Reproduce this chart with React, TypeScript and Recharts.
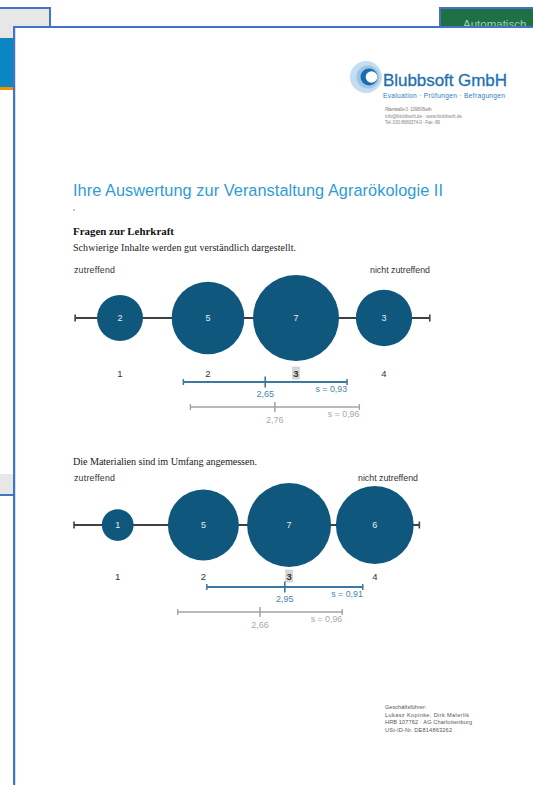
import React from 'react';
import { ScatterChart, Scatter, XAxis, YAxis, ZAxis, LabelList } from 'recharts';

// ---------- data ----------
const categories = [1, 2, 3, 4];
const tickLabels = ['1', '2', '3', '4'];
const q1Counts = [2, 5, 7, 3];
const q2Counts = [1, 5, 7, 6];
const ownMeans = [2.65, 2.95];
const ownSds = [0.93, 0.91];
const cmpMeans = [2.76, 2.66];
const cmpSds = [0.96, 0.96];
const questions = [
  'Schwierige Inhalte werden gut verständlich dargestellt.',
  'Die Materialien sind im Umfang angemessen.',
];
const scaleLabels = ['zutreffend', 'nicht zutreffend'];
const axisRange = [0.49, 4.52];

// ---------- style ----------
const SANS = '"Liberation Sans", Arial, sans-serif';
const SERIF = '"Liberation Serif", "Times New Roman", serif';
const BUBBLE = '#0f577c';
const OWN = '#3d78a0';
const CMP = '#a3a3a3';
const AXIS = '#404040';
const FRAME = '#4472c4';

const fmt = (v: number) => v.toFixed(2).replace('.', ',');

const medianCategory = (counts: number[]) => {
  const total = counts.reduce((a, b) => a + b, 0);
  let cum = 0;
  for (let i = 0; i < counts.length; i++) {
    cum += counts[i];
    if (cum >= total / 2) return categories[i];
  }
  return categories[categories.length - 1];
};

const capShape = (color: string, half: number, sw: number) => (p: any) => (
  <line x1={p.cx} x2={p.cx} y1={p.cy - half} y2={p.cy + half} stroke={color} strokeWidth={sw} />
);

const textShape = (color: string, dy: number, anchor: string, size: number) => (p: any) => (
  <text
    x={p.cx}
    y={p.cy + dy}
    textAnchor={anchor}
    dominantBaseline="central"
    fill={color}
    fontSize={size}
    fontFamily={SANS}
  >
    {p.payload.label}
  </text>
);

const tickShape = (p: any) => (
  <g>
    {p.payload.hl && <rect x={p.cx - 4} y={p.cy - 6.5} width={8} height={13} fill="#d6d6d6" />}
    <text
      x={p.cx}
      y={p.cy}
      textAnchor="middle"
      dominantBaseline="central"
      fill="#333"
      fontSize={9.5}
      fontFamily={SANS}
      fontWeight={p.payload.hl ? 'bold' : 'normal'}
    >
      {p.payload.label}
    </text>
  </g>
);

type Rows = { bubble: number; tick: number; own: number; cmp: number };

function RatingChart(props: {
  counts: number[];
  mean: number;
  sd: number;
  cmpMean: number;
  cmpSd: number;
  left: number;
  top: number;
  width: number;
  maxR: number;
  rows: Rows;
}) {
  const { counts, mean, sd, cmpMean, cmpSd, left, top, width, maxR, rows } = props;
  const H = 200;
  const median = medianCategory(counts);
  const bubbles = categories.map((c, i) => ({ x: c, y: rows.bubble, n: counts[i] }));
  const axisEnds = axisRange.map((x) => ({ x, y: rows.bubble }));
  const ticks = categories.map((c, i) => ({ x: c, y: rows.tick, label: tickLabels[i], hl: c === median }));
  const ownEnds = [{ x: mean - sd, y: rows.own }, { x: mean + sd, y: rows.own }];
  const cmpEnds = [{ x: cmpMean - cmpSd, y: rows.cmp }, { x: cmpMean + cmpSd, y: rows.cmp }];
  const ownMean = [{ x: mean, y: rows.own, label: fmt(mean) }];
  const cmpMeanPt = [{ x: cmpMean, y: rows.cmp, label: fmt(cmpMean) }];
  const ownSdLbl = [{ x: mean + sd, y: rows.own, label: 's = ' + fmt(sd) }];
  const cmpSdLbl = [{ x: cmpMean + cmpSd, y: rows.cmp, label: 's = ' + fmt(cmpSd) }];
  const zMax = 8;
  const areaMax = Math.PI * maxR * maxR * (zMax / 7);

  return (
    <div style={{ position: 'absolute', left, top }}>
      <ScatterChart width={width} height={H} margin={{ top: 0, right: 0, bottom: 0, left: 0 }}>
        <XAxis type="number" dataKey="x" domain={[0, 5]} allowDataOverflow hide />
        <YAxis type="number" dataKey="y" domain={[0, H]} allowDataOverflow reversed hide />
        <ZAxis type="number" dataKey="n" domain={[0, zMax]} range={[0, areaMax]} />
        <Scatter
          data={axisEnds}
          line={{ stroke: AXIS, strokeWidth: 2 }}
          shape={capShape(AXIS, 3.5, 1.6)}
          isAnimationActive={false}
        />
        <Scatter data={bubbles} fill={BUBBLE} isAnimationActive={false}>
          <LabelList dataKey="n" position="center" fill="#e6edf1" fontSize={9} fontFamily={SANS} />
        </Scatter>
        <Scatter data={ticks} shape={tickShape} isAnimationActive={false} />
        <Scatter
          data={ownEnds}
          line={{ stroke: OWN, strokeWidth: 1.8 }}
          shape={capShape(OWN, 3, 1.5)}
          isAnimationActive={false}
        />
        <Scatter data={ownMean} shape={capShape(OWN, 5.5, 1.6)} isAnimationActive={false} />
        <Scatter data={ownMean} shape={textShape('#4a84ab', 12, 'middle', 9)} isAnimationActive={false} />
        <Scatter data={ownSdLbl} shape={textShape('#4a84ab', 7, 'end', 8.8)} isAnimationActive={false} />
        <Scatter
          data={cmpEnds}
          line={{ stroke: CMP, strokeWidth: 1.6 }}
          shape={capShape(CMP, 3, 1.4)}
          isAnimationActive={false}
        />
        <Scatter data={cmpMeanPt} shape={capShape(CMP, 5, 1.5)} isAnimationActive={false} />
        <Scatter data={cmpMeanPt} shape={textShape('#a8a8a8', 13, 'middle', 9)} isAnimationActive={false} />
        <Scatter data={cmpSdLbl} shape={textShape('#a8a8a8', 7, 'end', 8.8)} isAnimationActive={false} />
      </ScatterChart>
    </div>
  );
}

export default function App() {
  return (
    <div
      style={{
        position: 'absolute',
        left: 0,
        top: 0,
        width: 533,
        height: 785,
        overflow: 'hidden',
        background: '#ffffff',
      }}
    >
      {/* background application window pieces */}
      <div
        style={{
          position: 'absolute',
          left: 0,
          top: 7,
          width: 49,
          height: 31,
          background: '#e7e7e7',
          borderTop: `2px solid ${FRAME}`,
          borderRight: `2px solid ${FRAME}`,
        }}
      />
      <div style={{ position: 'absolute', left: 0, top: 38, width: 13, height: 49, background: '#0a86c2' }} />
      <div style={{ position: 'absolute', left: 0, top: 87, width: 13, height: 3, background: '#f39200' }} />
      <div
        style={{
          position: 'absolute',
          left: 0,
          top: 474,
          width: 13,
          height: 20,
          background: '#e7e7e7',
          borderBottom: `2px solid ${FRAME}`,
        }}
      />
      <div
        style={{
          position: 'absolute',
          left: 439,
          top: 7,
          width: 100,
          height: 26,
          background: '#1f7145',
          borderTop: `2px solid ${FRAME}`,
          borderLeft: `2px solid ${FRAME}`,
          overflow: 'hidden',
        }}
      >
        <div
          style={{
            position: 'absolute',
            left: 22,
            top: 10,
            fontFamily: SANS,
            fontSize: 11.5,
            lineHeight: 1,
            color: '#9fd0ae',
            whiteSpace: 'nowrap',
          }}
        >
          Automatisch
        </div>
      </div>

      {/* document page */}
      <div
        style={{
          position: 'absolute',
          left: 13,
          top: 26,
          width: 540,
          height: 780,
          background: '#ffffff',
          borderLeft: `2px solid ${FRAME}`,
          borderTop: `2px solid ${FRAME}`,
        }}
      >
        <div style={{ position: 'absolute', left: 0, top: 0, width: 1, height: 780, background: '#cfe0f3' }} />
      </div>

      {/* page text & logo */}
      <svg width={533} height={785} style={{ position: 'absolute', left: 0, top: 0 }}>
        {/* logo */}
        <circle cx={366} cy={77} r={16} fill="#c4ddf1" />
        <circle cx={368} cy={77} r={11.5} fill="#9cc6e7" />
        <circle cx={369} cy={77} r={8.5} fill="#1d6cab" />
        <circle cx={371.5} cy={77} r={5.8} fill="#ffffff" />
        <text x={383} y={86} fontFamily={SANS} fontSize={17} fill="#1f6fb0" stroke="#1f6fb0" strokeWidth={0.3} textLength={124}>
          Blubbsoft GmbH
        </text>
        <text x={383} y={98} fontFamily={SANS} fontSize={6.6} fill="#2b7bbd" textLength={122}>
          Evaluation · Prüfungen · Befragungen
        </text>
        <text x={385} y={111} fontFamily={SANS} fontSize={4.8} fill="#8a8a8a" textLength={47}>
          Ritterstraße 3 · 10969 Berlin
        </text>
        <text x={385} y={117.5} fontFamily={SANS} fontSize={4.8} fill="#8a8a8a" textLength={77}>
          info@blubbsoft.de · www.blubbsoft.de
        </text>
        <text x={385} y={124} fontFamily={SANS} fontSize={4.8} fill="#8a8a8a" textLength={55}>
          Tel. 030 8680374-0 · Fax -99
        </text>

        {/* headings */}
        <text x={73} y={196} fontFamily={SANS} fontSize={16.3} fill="#2f9bd6" textLength={370}>
          Ihre Auswertung zur Veranstaltung Agrarökologie II
        </text>
        <circle cx={74} cy={210} r={0.8} fill="#888" />
        <text x={73} y={234.5} fontFamily={SERIF} fontSize={10.9} fontWeight="bold" fill="#111" textLength={101}>
          Fragen zur Lehrkraft
        </text>
        <text x={73} y={250.5} fontFamily={SERIF} fontSize={10} fill="#222" textLength={223}>
          {questions[0]}
        </text>
        <text x={74} y={273} fontFamily={SANS} fontSize={8.8} fill="#333" textLength={41}>
          {scaleLabels[0]}
        </text>
        <text x={430} y={273} fontFamily={SANS} fontSize={8.8} fill="#333" textAnchor="end">
          {scaleLabels[1]}
        </text>

        <text x={73} y={464.5} fontFamily={SERIF} fontSize={10.2} fill="#222" textLength={184}>
          {questions[1]}
        </text>
        <text x={74} y={481} fontFamily={SANS} fontSize={8.8} fill="#333" textLength={41}>
          {scaleLabels[0]}
        </text>
        <text x={418} y={481} fontFamily={SANS} fontSize={8.8} fill="#333" textAnchor="end">
          {scaleLabels[1]}
        </text>

        {/* footer */}
        <text x={385} y={709} fontFamily={SANS} fontSize={5.6} fill="#555">Geschäftsführer:</text>
        <text x={385} y={716.5} fontFamily={SANS} fontSize={5.6} fill="#555" textLength={84}>
          Lukasz Kopinke, Dirk Malerlik
        </text>
        <text x={385} y={724} fontFamily={SANS} fontSize={5.6} fill="#555" textLength={87}>
          HRB 107762 · AG Charlottenburg
        </text>
        <text x={385} y={731.5} fontFamily={SANS} fontSize={5.6} fill="#555" textLength={67}>
          USt-ID-Nr. DE814863262
        </text>
      </svg>

      <RatingChart
        counts={q1Counts}
        mean={ownMeans[0]}
        sd={ownSds[0]}
        cmpMean={cmpMeans[0]}
        cmpSd={cmpSds[0]}
        left={32}
        top={262}
        width={440}
        maxR={43}
        rows={{ bubble: 56, tick: 111, own: 120, cmp: 145 }}
      />
      <RatingChart
        counts={q2Counts}
        mean={ownMeans[1]}
        sd={ownSds[1]}
        cmpMean={cmpMeans[1]}
        cmpSd={cmpSds[1]}
        left={32.3}
        top={469}
        width={428.5}
        maxR={42}
        rows={{ bubble: 56, tick: 107, own: 118, cmp: 143 }}
      />
    </div>
  );
}
